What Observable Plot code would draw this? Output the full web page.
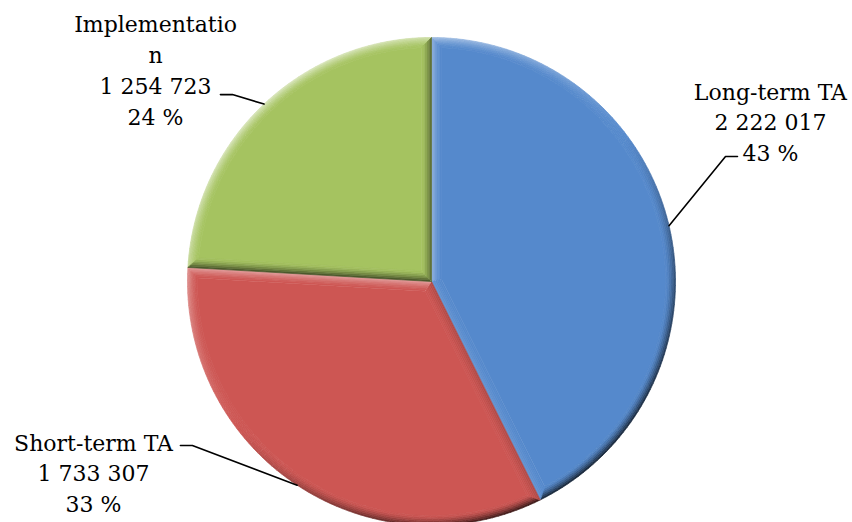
<!DOCTYPE html>
<html><head><meta charset="utf-8">
<script src="https://cdn.jsdelivr.net/npm/d3@7"></script>
<script src="https://cdn.jsdelivr.net/npm/@observablehq/plot@0.6"></script>
<style>body{margin:0;background:#fff}</style>
</head><body><div id="chart"></div>
<script>
// ---- data ----
const categories = ["Long-term TA", "Short-term TA", "Implementation"];
const values = [2222017, 1733307, 1254723];
const nameLabels = ["Long-term TA", "Short-term TA", "Implementatio\nn"];
const colors = ["#5589CC", "#CD5653", "#A5C360"];

// ---- label layout (data units; pie radius = 1) ----
const labelX = [1.389, -1.385, -1.131];
const labelY = [0.66, -0.779, 0.872];
const elbowX = [1.205, -0.980, -0.816];
const elbowY = [0.512, -0.672, 0.766];
const tailX = [1.254, -1.029, -0.865];

const total = d3.sum(values);
const fmt = v => d3.format(",")(v).replace(/,/g, " ");
const slices = [];
let acc = 0;
values.forEach((v, i) => {
  const a0 = acc / total * 2 * Math.PI; acc += v;
  const a1 = acc / total * 2 * Math.PI;
  slices.push({i, a0, a1, v});
});

function inset(a0, a1, d) {
  const th = a1 - a0, b = (a0 + a1) / 2;
  const pd = d === 0 ? 0 : d / Math.sin(th / 2);
  const R = 1 - d;
  const s = Math.asin(d / R);
  return {px: pd * Math.sin(b), py: pd * Math.cos(b), R, f0: a0 + s, f1: a1 - s};
}
const L = [-0.6, 0.8];
function shade(base, s, t) {
  const amt = s * t;
  return amt > 0 ? d3.interpolateRgb(base, "#ffffff")(amt * 0.6)
                 : d3.interpolateRgb(base, "#000000")(-amt * 0.8);
}

const D = 10 / 244, K = 6;
const polys = [];
let pid = 0;
function addPoly(pts, color) {
  const id = pid++;
  for (const [x, y] of pts) polys.push({id, x, y, color});
}
for (const sl of slices) {
  const base = colors[sl.i];
  // flat interior
  const I = inset(sl.a0, sl.a1, D);
  const pts = [[I.px, I.py]];
  const n = Math.ceil((I.f1 - I.f0) / (2 * Math.PI) * 360);
  for (let j = 0; j <= n; j++) {
    const f = I.f0 + (I.f1 - I.f0) * j / n;
    pts.push([I.R * Math.sin(f), I.R * Math.cos(f)]);
  }
  addPoly(pts, base);
  // bevel rings
  for (let k = 0; k < K; k++) {
    const A = inset(sl.a0, sl.a1, D * k / K);
    const B = inset(sl.a0, sl.a1, D * (k + 1) / K);
    const t = Math.pow((K - k - 0.5) / K, 1.4);
    const N = Math.ceil((sl.a1 - sl.a0) / (2 * Math.PI) * 240);
    for (let j = 0; j < N; j++) {
      const u0 = j / N, u1 = (j + 1) / N;
      const fa0 = A.f0 + (A.f1 - A.f0) * u0, fa1 = A.f0 + (A.f1 - A.f0) * u1;
      const fb0 = B.f0 + (B.f1 - B.f0) * u0, fb1 = B.f0 + (B.f1 - B.f0) * u1;
      const fm = (fa0 + fa1) / 2;
      const s = Math.sin(fm) * L[0] + Math.cos(fm) * L[1];
      addPoly([
        [A.R * Math.sin(fa0), A.R * Math.cos(fa0)],
        [A.R * Math.sin(fa1), A.R * Math.cos(fa1)],
        [B.R * Math.sin(fb1), B.R * Math.cos(fb1)],
        [B.R * Math.sin(fb0), B.R * Math.cos(fb0)]
      ], shade(base, s, t));
    }
    // radial edge at a0
    const n0 = [-Math.cos(sl.a0), Math.sin(sl.a0)];
    addPoly([
      [A.px, A.py], [A.R * Math.sin(A.f0), A.R * Math.cos(A.f0)],
      [B.R * Math.sin(B.f0), B.R * Math.cos(B.f0)], [B.px, B.py]
    ], shade(base, n0[0] * L[0] + n0[1] * L[1], t));
    // radial edge at a1
    const n1 = [Math.cos(sl.a1), -Math.sin(sl.a1)];
    addPoly([
      [A.px, A.py], [A.R * Math.sin(A.f1), A.R * Math.cos(A.f1)],
      [B.R * Math.sin(B.f1), B.R * Math.cos(B.f1)], [B.px, B.py]
    ], shade(base, n1[0] * L[0] + n1[1] * L[1], t));
  }
}

// labels and leader lines
const labels = slices.map(sl => ({
  x: labelX[sl.i], y: labelY[sl.i],
  text: nameLabels[sl.i] + "\n" + fmt(sl.v) + "\n" + Math.round(sl.v / total * 100) + " %"
}));
const leaders = [];
slices.forEach(sl => {
  const m = (sl.a0 + sl.a1) / 2;
  leaders.push({id: sl.i, x: Math.sin(m), y: Math.cos(m)});
  leaders.push({id: sl.i, x: elbowX[sl.i], y: elbowY[sl.i]});
  leaders.push({id: sl.i, x: tailX[sl.i], y: elbowY[sl.i]});
});

const chart = Plot.plot({
  width: 852, height: 522, margin: 0,
  x: {domain: [-1, 1], range: [187, 675], axis: null},
  y: {domain: [-1, 1], range: [525, 37], axis: null},
  color: {type: "identity"},
  style: {background: "#ffffff", overflow: "visible"},
  marks: [
    Plot.line(polys, {x: "x", y: "y", z: "id", fill: "color", stroke: "color", strokeWidth: 0.7, curve: "linear"}),
    Plot.line(leaders, {x: "x", y: "y", z: "id", stroke: "#000", strokeWidth: 1.6}),
    Plot.text(labels, {x: "x", y: "y", text: "text", fontSize: 22, fontFamily: "DejaVu Serif",
      lineHeight: 1.4, lineAnchor: "middle", textAnchor: "middle", fill: "#000"})
  ]
});
document.getElementById("chart").appendChild(chart);
</script>
</body></html>
